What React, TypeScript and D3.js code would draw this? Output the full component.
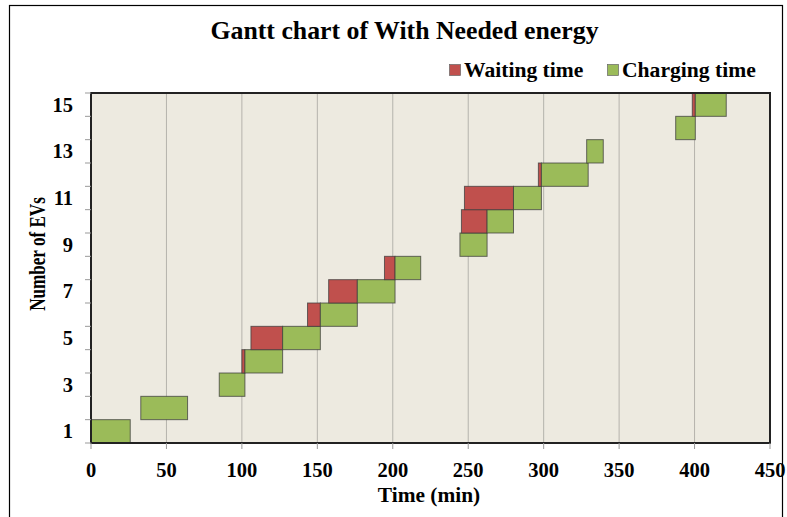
import React from "react";
import * as d3 from "d3";

const evs = [1, 2, 3, 4, 5, 6, 7, 8, 9, 10, 11, 12, 13, 14, 15];
const arrivalTime = [0, 33, 85, 100, 106, 143.5, 157.5, 194.5, 244.5, 245.5, 247.5, 296.5, 328.5, 387.5, 398.5];
const waitingTime = [0, 0, 0, 2, 21, 8.5, 19, 7, 0, 17, 32.5, 2, 0, 0, 2];
const chargingTime = [26, 31, 17, 25, 25, 24.5, 25, 17, 18, 17.5, 18.5, 31, 11, 13, 20.5];
const xTicks = [0, 50, 100, 150, 200, 250, 300, 350, 400, 450];
const yTickLabels = [1, 3, 5, 7, 9, 11, 13, 15];
const seriesNames = ["Waiting time", "Charging time"];
const colors = ["#C0504D", "#9BBB59"];

const W = 787;
const H = 517;
const left = 91;
const right = 770;
const top = 93;
const bottom = 443;
const font = "'Liberation Serif', 'Times New Roman', serif";

function T({
  x,
  y,
  size,
  anchor = "start",
  rotate = 0,
  sx = 1,
  children,
}: {
  x: number;
  y: number;
  size: number;
  anchor?: string;
  rotate?: number;
  sx?: number;
  children: React.ReactNode;
}) {
  const tr = `translate(${x},${y}) rotate(${rotate}) scale(${sx},1)`;
  return (
    <text
      transform={tr}
      textAnchor={anchor}
      fontFamily={font}
      fontWeight="bold"
      fontSize={size}
      fill="#000"
    >
      {children}
    </text>
  );
}

export default function App() {
  const x = d3.scaleLinear().domain([0, 450]).range([left, right]);
  const y = d3
    .scaleBand<number>()
    .domain([...evs].reverse())
    .range([top, bottom])
    .padding(0);
  const bw = y.bandwidth();
  const boundaries = d3.range(evs.length + 1).map((i) => top + i * bw);

  return (
    <svg
      width={W}
      height={H}
      style={{ position: "absolute", left: 0, top: 0, background: "#fff" }}
    >
      <rect x={9.5} y={5.5} width={773} height={H} fill="#fff" stroke="#000" strokeWidth={1.2} />
      <T x={404.5} y={39} size={25.8} anchor="middle">
        Gantt chart of With Needed energy
      </T>
      {/* legend */}
      <rect x={449.5} y={64.5} width={11} height={11} fill={colors[0]} stroke="#666" strokeWidth={0.7} />
      <T x={464} y={77} size={21.6}>{seriesNames[0]}</T>
      <rect x={607.5} y={64.5} width={11} height={11} fill={colors[1]} stroke="#666" strokeWidth={0.7} />
      <T x={622} y={77} size={21.6}>{seriesNames[1]}</T>
      {/* plot background */}
      <rect x={left} y={top} width={right - left} height={bottom - top} fill="#EDEAE0" />
      {/* grid */}
      {xTicks.slice(1, -1).map((t) => (
        <line key={t} x1={x(t)} x2={x(t)} y1={top} y2={bottom} stroke="#B5B3AC" strokeWidth={1} />
      ))}
      {/* bars */}
      {evs.map((ev, i) => {
        const y0 = y(ev)!;
        const a = arrivalTime[i];
        const w = waitingTime[i];
        const c = chargingTime[i];
        return (
          <g key={ev}>
            {w > 0 && (
              <rect
                x={x(a)}
                y={y0}
                width={x(a + w) - x(a)}
                height={bw}
                fill={colors[0]}
                stroke="rgba(60,60,60,0.75)"
                strokeWidth={1}
              />
            )}
            <rect
              x={x(a + w)}
              y={y0}
              width={x(a + w + c) - x(a + w)}
              height={bw}
              fill={colors[1]}
              stroke="rgba(60,60,60,0.75)"
              strokeWidth={1}
            />
          </g>
        );
      })}
      {/* plot border */}
      <rect x={left} y={top} width={right - left} height={bottom - top} fill="none" stroke="#222" strokeWidth={2} />
      {/* y ticks */}
      {boundaries.map((b, i) => (
        <line key={i} x1={left - 6} x2={left} y1={b} y2={b} stroke="#999" strokeWidth={1} />
      ))}
      {yTickLabels.map((v) => (
        <T key={v} x={73} y={y(v)! + bw / 2 + 7} size={20.5} anchor="end">
          {v}
        </T>
      ))}
      {/* x ticks */}
      {xTicks.map((t) => (
        <g key={t}>
          <line x1={x(t)} x2={x(t)} y1={bottom} y2={bottom + 6} stroke="#999" strokeWidth={1} />
          <T x={x(t)} y={477} size={20.5} anchor="middle">
            {t}
          </T>
        </g>
      ))}
      <T x={429} y={502} size={21.4} anchor="middle">
        Time (min)
      </T>
      <T x={45} y={254} size={22.5} anchor="middle" rotate={-90} sx={0.76}>
        Number of EVs
      </T>
    </svg>
  );
}
